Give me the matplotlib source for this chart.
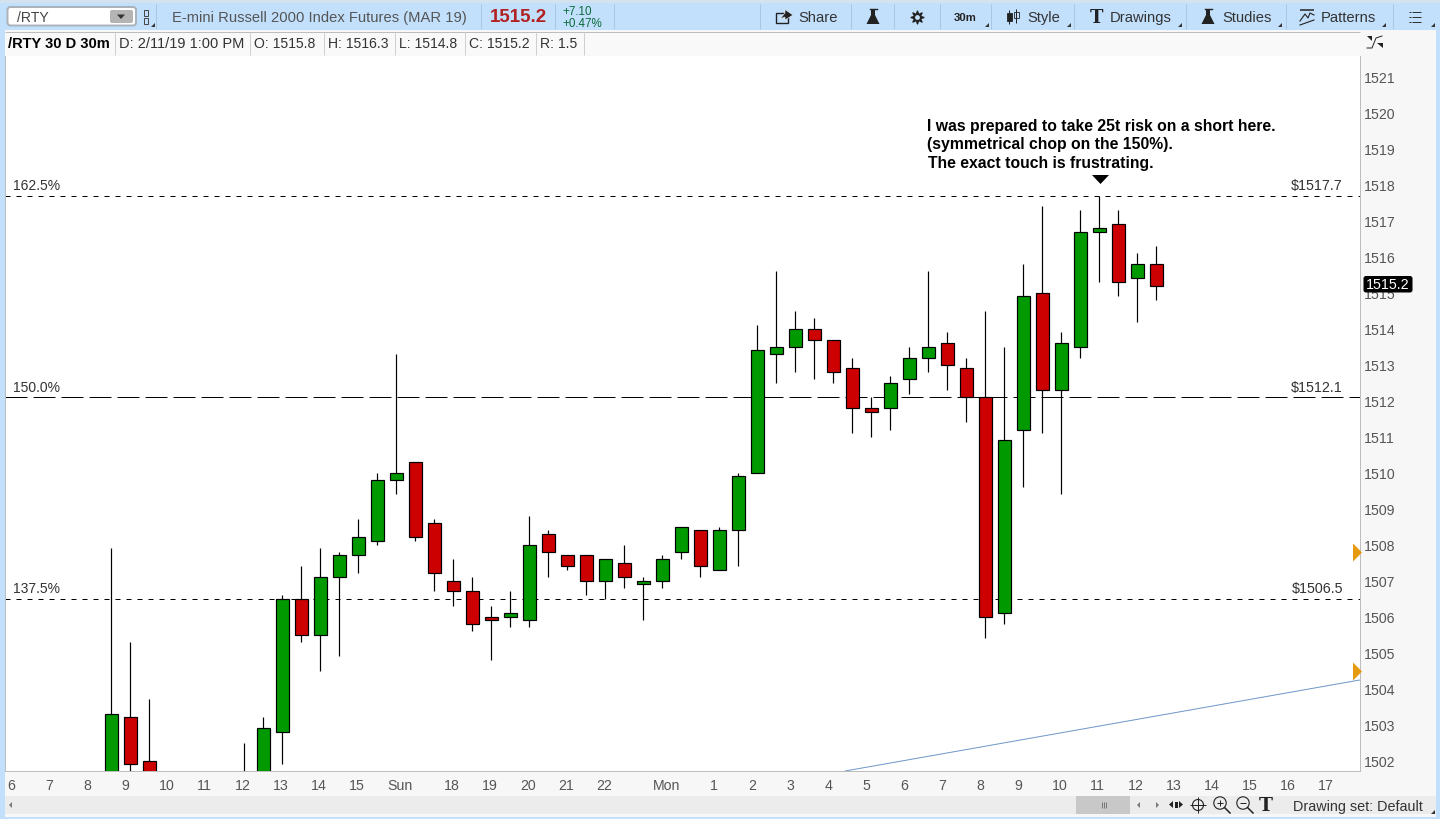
import matplotlib
matplotlib.use("Agg")
import matplotlib.pyplot as plt
from matplotlib.patches import Rectangle, Polygon, Circle, FancyBboxPatch

plt.rcParams['font.family'] = ['Liberation Sans', 'DejaVu Sans']

# ---------- data ----------
opens  = [1500.6,1503.2,1502.0,1501.1,1500.9,1500.7,1501.0,1501.2,1501.0,1502.8,1506.5,1505.5,1507.1,1507.7,1508.1,1509.8,
          1510.3,1508.6,1507.0,1506.7,1506.0,1506.0,1505.9,1508.3,1507.7,1507.7,1507.0,1507.5,1506.9,1507.0,1507.8,1508.4,
          1507.3,1508.4,1510.0,1513.3,1513.5,1514.0,1513.7,1512.9,1511.8,1511.8,1512.6,1513.2,1513.6,1512.9,1512.1,1506.1,
          1511.2,1515.0,1512.3,1513.5,1516.7,1516.9,1515.4,1515.8]
highs  = [1507.9,1505.3,1503.7,1501.5,1501.4,1501.3,1501.6,1502.5,1503.2,1506.6,1507.4,1507.9,1507.8,1508.7,1510.0,1513.3,
          1510.3,1508.7,1507.6,1507.1,1506.3,1506.7,1508.8,1508.4,1507.7,1507.7,1507.6,1508.0,1507.1,1507.7,1508.5,1508.4,
          1508.5,1510.0,1514.1,1515.6,1514.5,1514.3,1513.7,1513.2,1512.1,1512.7,1513.5,1515.6,1513.9,1513.2,1514.5,1513.5,
          1515.8,1517.4,1513.9,1517.3,1517.7,1517.3,1516.1,1516.3]
lows   = [1500.3,1501.3,1500.9,1500.6,1500.3,1500.4,1500.7,1500.9,1500.8,1501.9,1505.3,1504.5,1504.9,1507.2,1508.0,1509.4,
          1508.1,1506.7,1506.3,1505.6,1504.8,1505.7,1505.7,1507.1,1507.3,1506.6,1506.5,1506.8,1505.9,1506.8,1507.6,1507.1,
          1507.3,1507.4,1510.0,1512.5,1512.8,1512.6,1512.5,1511.1,1511.0,1511.2,1512.2,1512.8,1512.3,1511.4,1505.4,1505.8,
          1509.6,1511.1,1509.4,1513.2,1515.3,1514.9,1514.2,1514.8]
closes = [1503.3,1501.9,1501.2,1500.9,1500.7,1501.0,1501.2,1501.5,1502.9,1506.5,1505.5,1507.1,1507.7,1508.2,1509.8,1510.0,
          1508.2,1507.2,1506.7,1505.8,1505.9,1506.1,1508.0,1507.8,1507.4,1507.0,1507.6,1507.1,1507.0,1507.6,1508.5,1507.4,
          1508.4,1509.9,1513.4,1513.5,1514.0,1513.7,1512.8,1511.8,1511.7,1512.5,1513.2,1513.5,1513.0,1512.1,1506.0,1510.9,
          1514.9,1512.3,1513.6,1516.7,1516.8,1515.3,1515.8,1515.2]

fib_labels = ['162.5%', '150.0%', '137.5%']
fib_levels = [1517.7, 1512.1, 1506.5]
fib_prices = ['$1517.7', '$1512.1', '$1506.5']

y_ticks = list(range(1502, 1522))
x_tick_pos = [-5.5,-3.5,-1.5,0.5,2.5,4.5,6.5,8.5,10.5,12.5,14.5,17.5,19.5,21.5,23.5,25.5,28.5,31.5,33.5,35.5,37.5,39.5,
              41.5,43.5,45.5,47.5,49.5,51.5,53.5,55.5,57.5,59.5,61.5,63.5]
x_tick_labels = ['6','7','8','9','10','11','12','13','14','15','Sun','18','19','20','21','22','Mon','1','2','3','4','5',
                 '6','7','8','9','10','11','12','13','14','15','16','17']

trend_x = [38.6, 65.7]
trend_y = [1501.71, 1504.24]
alert_levels = [1507.8, 1504.5]
last_price = '1515.2'
note_lines = ['I was prepared to take 25t risk on a short here.',
              '(symmetrical chop on the 150%).',
              'The exact touch is frustrating.']
marker_bar, marker_price = 52, 1518.15

# ---------- figure ----------
W, H = 1440, 820
fig = plt.figure(figsize=(W/100, H/100), dpi=100, facecolor='#c2e0fc')
PX = 0.72

ch = fig.add_axes([0, 0, 1, 1], zorder=1)
ch.set_xlim(0, W); ch.set_ylim(H, 0); ch.axis('off')

def rect(x0, y0, x1, y1, fc, ec='none', lw=0, **k):
    ch.add_patch(Rectangle((x0, y0), x1-x0, y1-y0, fc=fc, ec=ec, lw=lw, **k))
def txt(x, y, s, size=10.3, color='#444444', ha='left', **k):
    ch.text(x, y, s, fontsize=size, color=color, ha=ha, va='center', **k)
def vl(x, y0, y1, c='#a9c6e2', lw=1.0):
    ch.plot([x, x], [y0, y1], color=c, lw=lw*PX, solid_capstyle='butt')
def hl(x0, x1, y, c='#bdbdbd', lw=1.0):
    ch.plot([x0, x1], [y, y], color=c, lw=lw*PX, solid_capstyle='butt')
def corner(x, y):
    ch.add_patch(Polygon([(x, y), (x+4, y), (x+4, y-4)], fc='#333333', ec='none'))
def flask(cx, cy=18, s=1.0):
    ch.add_patch(Polygon([(cx-2*s, cy-8*s), (cx+2*s, cy-8*s), (cx+2*s, cy-2*s), (cx+6.5*s, cy+7*s),
                          (cx-6.5*s, cy+7*s), (cx-2*s, cy-2*s)], fc='#222222', ec='none'))
    ch.plot([cx-3.5*s, cx+3.5*s], [cy-8*s, cy-8*s], color='#222222', lw=1)

# frame panels
rect(0, 0, W, 4, '#d4e2f0')
rect(5, 31, 1436, 818, '#f7f7f7')
rect(5, 797, 1436, 815, '#ececec')
rect(5, 33, 1360, 56, '#f9f9f9')
hl(5, 1360, 32.5); hl(5, 1360, 56.5)

# toolbar
ch.add_patch(FancyBboxPatch((7.5, 8), 128.5, 18.5, boxstyle='round,pad=0,rounding_size=3',
                            fc='#ffffff', ec='#aab2ba', lw=1.4))
ch.add_patch(FancyBboxPatch((110, 11), 23, 13, boxstyle='round,pad=0,rounding_size=2', fc='#b4b4b4', ec='none'))
ch.add_patch(Polygon([(117, 15.5), (125, 15.5), (121, 20)], fc='#333333', ec='none'))
txt(17, 17.5, '/RTY', size=10.1)
rect(144, 11, 148, 17, 'none', ec='#444444', lw=0.7)
rect(144, 19, 148, 25, 'none', ec='#444444', lw=0.7)
corner(151, 28)
for x in (156, 481, 555, 614, 760, 851, 894, 940, 991, 1074, 1186, 1286, 1393):
    vl(x, 5, 30)
txt(172, 18, 'E-mini Russell 2000 Index Futures (MAR 19)', size=10.6, color='#555555')
txt(490, 18, '1515.2', size=13.5, color='#b22222', fontweight='bold')
txt(562, 12, '+7.10', size=8.4, color='#0b6b3a')
txt(562, 24, '+0.47%', size=8.4, color='#0b6b3a')

# share icon
rect(776, 14, 788, 24, 'none', ec='#222222', lw=1.0)
ch.add_patch(Polygon([(780, 20), (785, 14), (785, 10.5), (793, 16), (785, 21), (785, 18)], fc='#222222', ec='#f2f8ff', lw=0.4))
txt(798, 18, 'Share', size=10.6, color='#333333')
flask(873)
ch.scatter([917], [18], marker=(8, 1, 0), s=85, c='#222222', zorder=3)
ch.scatter([917], [18], marker='o', s=6, c='#c2e0fc', zorder=4)
txt(965, 18, '30m', size=8.2, color='#222222', ha='center', fontweight='bold')
corner(985, 28)
# style icon
for x, y0, y1, b0, b1 in ((1009, 11, 25, 14, 22), (1016, 10, 24, 13, 19)):
    vl(x, y0, y1, c='#222222')
    rect(x-2.5, b0, x+2.5, b1, '#222222' if x == 1009 else 'none', ec='#222222', lw=0.6)
txt(1027, 18, 'Style', size=10.6, color='#333333')
corner(1067, 28)
txt(1096, 18, 'T', size=13, color='#222222', ha='center', family='DejaVu Serif', fontweight='bold')
txt(1110, 18, 'Drawings', size=10.6, color='#333333')
corner(1178, 28)
flask(1208)
txt(1222, 18, 'Studies', size=10.6, color='#333333')
corner(1278, 28)
# patterns icon
hl(1300, 1314, 11, c='#222222', lw=1.5)
ch.plot([1300, 1305, 1308, 1310, 1314], [22, 15, 19, 14, 16], color='#222222', lw=0.8)
ch.plot([1300, 1314], [26, 21], color='#222222', lw=0.8)
txt(1321, 18, 'Patterns', size=10.6, color='#333333')
corner(1382, 28)
for y in (13, 18, 23):
    hl(1412, 1421, y, c='#333333')
    hl(1409, 1410.5, y, c='#333333')
corner(1431, 28)

# info row
txt(8, 44.5, '/RTY 30 D 30m', size=10.5, color='#000000', fontweight='bold')
for x in (115, 250, 324, 395, 465, 536, 584):
    vl(x, 33, 56, c='#cfcfcf')
for x, s, sz in ((119, 'D: 2/11/19 1:00 PM', 10.5), (254, 'O: 1515.8', 10.1), (328, 'H: 1516.3', 10.1),
                 (399, 'L: 1514.8', 10.1), (469, 'C: 1515.2', 10.1), (540, 'R: 1.5', 10.1)):
    txt(x, 44.5, s, size=sz, color='#333333')

# expand icon top right
ch.plot([1367, 1372, 1376, 1382], [49, 49, 39, 37], color='#222222', lw=0.7)
ch.add_patch(Polygon([(1367, 37), (1372, 37), (1372, 42)], fc='#222222', ec='none'))
ch.add_patch(Polygon([(1377, 44), (1383, 44), (1383, 49)], fc='#222222', ec='none'))

# bottom bar
ch.add_patch(Polygon([(12, 803), (9, 806), (12, 809)], fc='#777777', ec='none'))
rect(1076, 797, 1130, 815, '#c8c8c8')
for x in (1101.5, 1103.5, 1105.5):
    vl(x, 803, 809, c='#777777')
ch.add_patch(Polygon([(1140, 803), (1137, 806), (1140, 809)], fc='#777777', ec='none'))
ch.add_patch(Polygon([(1156, 803), (1159, 806), (1156, 809)], fc='#777777', ec='none'))
ch.add_patch(Polygon([(1169, 805.5), (1173, 802), (1173, 809)], fc='#222222', ec='none'))
ch.add_patch(Polygon([(1183, 805.5), (1179, 802), (1179, 809)], fc='#222222', ec='none'))
rect(1174.5, 802.5, 1177.5, 808.5, '#222222')
ch.add_patch(Circle((1198, 806), 5.5, fc='none', ec='#222222', lw=0.8))
hl(1190, 1206, 806, c='#222222'); vl(1198, 798, 814, c='#222222')
for cx, plus in ((1220, True), (1243, False)):
    ch.add_patch(Circle((cx, 804), 6.2, fc='none', ec='#222222', lw=0.8))
    ch.plot([cx+4.5, cx+10], [808.5, 814], color='#222222', lw=1.1)
    hl(cx-3, cx+3, 804, c='#222222')
    if plus:
        vl(cx, 801, 807, c='#222222')
txt(1266, 806, 'T', size=13.5, color='#222222', ha='center', family='DejaVu Serif', fontweight='bold')
txt(1293, 807, 'Drawing set: Default', size=10.4, color='#333333')
corner(1431, 815)

# ---------- price chart ----------
L, R, T, B = 5, 1360, 57, 772
ax = fig.add_axes([L/W, 1-B/H, (R-L)/W, (B-T)/H], zorder=2, facecolor='white')
ax.set_xlim((L-111.7)/19, (R-111.7)/19)
ax.set_ylim(1501.71, 1521.58)
for s in ('top', 'left', 'right', 'bottom'):
    ax.spines[s].set_color('#bdbdbd'); ax.spines[s].set_linewidth(PX)
ax.spines['top'].set_visible(False)

ax.yaxis.tick_right()
ax.set_yticks(y_ticks)
ax.set_yticklabels([str(v) for v in y_ticks])
ax.tick_params(axis='y', length=0, pad=3, labelsize=10.2, labelcolor='#555555')
ax.set_xticks(x_tick_pos)
ax.set_xticklabels(x_tick_labels, ha='left')
ax.tick_params(axis='x', length=0, pad=5.3, labelsize=10.2, labelcolor='#555555')

# fib levels (dash pattern in units of the 1 px line width)
styles = [(0, (5, 6)), (0, (22, 6)), (0, (5, 6))]
for lev, st, lab, pr in zip(fib_levels, styles, fib_labels, fib_prices):
    ax.axhline(lev, color='black', lw=PX, linestyle=st, zorder=1)
    ax.annotate(lab, xy=(0, lev), xycoords=('axes fraction', 'data'), xytext=(5.8, 2.6),
                textcoords='offset points', fontsize=10, color='#333333', ha='left', va='bottom')
    ax.annotate(pr, xy=(1, lev), xycoords=('axes fraction', 'data'), xytext=(-12.2, 2.6),
                textcoords='offset points', fontsize=10.3, color='#333333', ha='right', va='bottom')

# trend line
ax.plot(trend_x, trend_y, color='#6f98c9', lw=PX, zorder=1.5)

# candles
xs = list(range(len(opens)))
up = [c >= o for o, c in zip(opens, closes)]
ax.vlines([x-0.03 for x in xs], lows, highs, color='black', lw=PX*1.2, zorder=2)
bottoms = [min(o, c) for o, c in zip(opens, closes)]
heights = [abs(o-c) for o, c in zip(opens, closes)]
ax.bar(xs, heights, bottom=bottoms, width=0.66, color=['#009900' if u else '#cc0000' for u in up],
       edgecolor='black', linewidth=PX*1.2, zorder=3)

# annotation
for line, ch_x, ch_y in zip(note_lines, (927, 927, 928.5), (127, 145, 164)):
    fig.text(ch_x/W, 1-ch_y/H, line, fontsize=11.35, color='black', fontweight='bold', va='center', zorder=5)
ax.scatter([marker_bar], [marker_price], marker=[(-8.5, 4.5), (8.5, 4.5), (0, -4.5)], s=150, c='black',
           linewidths=0, zorder=4)

# alert arrows
for lev in alert_levels:
    ax.scatter([65.52], [lev], marker=[(-4.5, -9), (4.5, 0), (-4.5, 9)], s=168, c='#e69a10', linewidths=0,
               zorder=4, clip_on=False)

# last price tag, drawn above the chart
top = fig.add_axes([0, 0, 1, 1], zorder=3)
top.set_xlim(0, W); top.set_ylim(H, 0); top.axis('off'); top.patch.set_alpha(0)
top.add_patch(FancyBboxPatch((1363.5, 277), 49, 16.5, boxstyle='round,pad=0,rounding_size=2.5', fc='black', ec='none'))
top.text(1388, 285.5, last_price, color='white', fontsize=10.3, ha='center', va='center')

fig.savefig('out.png', dpi=100)
